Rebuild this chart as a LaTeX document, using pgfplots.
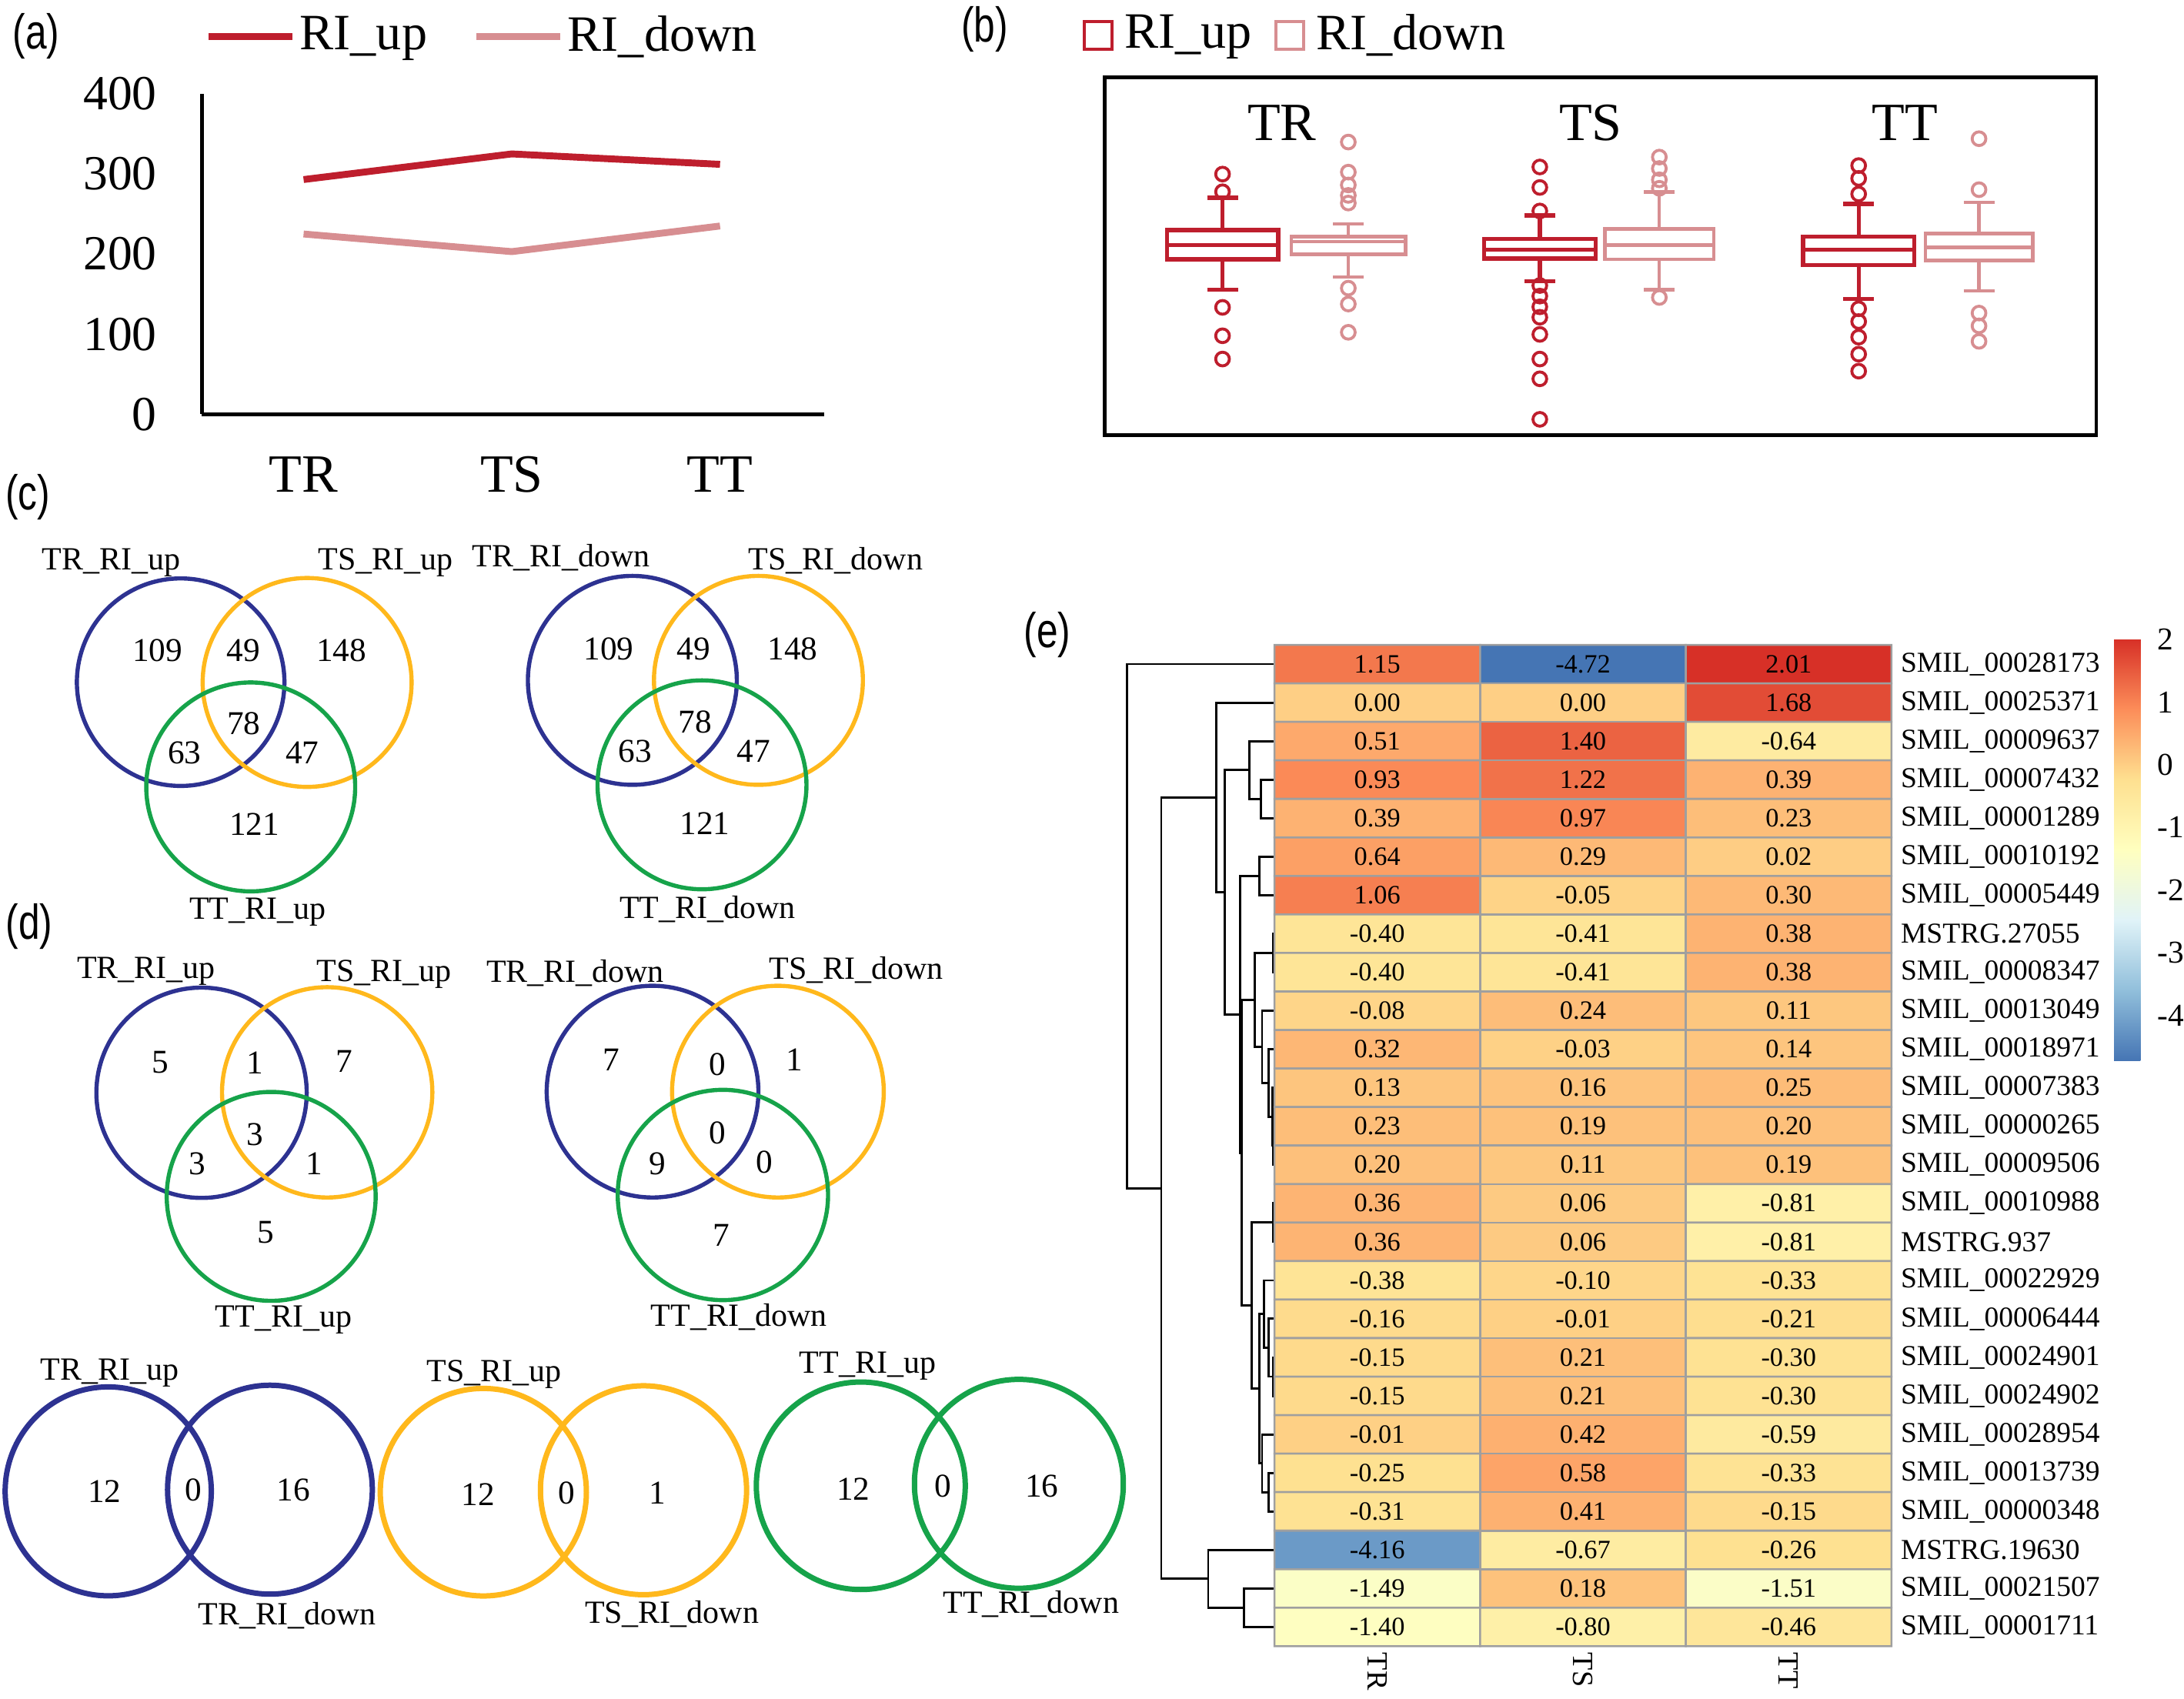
\documentclass[border=0pt]{standalone}
\usepackage{fontspec}
\setmainfont{Liberation Serif}
\setsansfont{Liberation Sans}
\usepackage{graphicx}
\usepackage{pgfplots}
\usepackage{pgfplotstable}
\pgfplotsset{compat=1.18}
\usepgfplotslibrary{statistics}

\definecolor{RIup}{RGB}{190,30,45}
\definecolor{RIdown}{RGB}{215,142,145}
\definecolor{vblue}{RGB}{45,50,145}
\definecolor{vyellow}{RGB}{255,184,28}
\definecolor{vgreen}{RGB}{22,163,74}

\newcommand{\fs}[1]{\fontsize{#1}{#1}\rmfamily\selectfont}
\newcommand{\plab}[1]{{\fontsize{10}{10}\sffamily\selectfont\scalebox{0.78}[1]{(#1)}}}
\newcommand{\g}[1]{\fs{5.9}#1}

% heatmap: column (0 TR, 1 TS, 2 TT), row, value
\pgfplotstableread{
x y v
0 1 1.15
1 1 -4.72
2 1 2.01
0 2 0.00
1 2 0.00
2 2 1.68
0 3 0.51
1 3 1.40
2 3 -0.64
0 4 0.93
1 4 1.22
2 4 0.39
0 5 0.39
1 5 0.97
2 5 0.23
0 6 0.64
1 6 0.29
2 6 0.02
0 7 1.06
1 7 -0.05
2 7 0.30
0 8 -0.40
1 8 -0.41
2 8 0.38
0 9 -0.40
1 9 -0.41
2 9 0.38
0 10 -0.08
1 10 0.24
2 10 0.11
0 11 0.32
1 11 -0.03
2 11 0.14
0 12 0.13
1 12 0.16
2 12 0.25
0 13 0.23
1 13 0.19
2 13 0.20
0 14 0.20
1 14 0.11
2 14 0.19
0 15 0.36
1 15 0.06
2 15 -0.81
0 16 0.36
1 16 0.06
2 16 -0.81
0 17 -0.38
1 17 -0.10
2 17 -0.33
0 18 -0.16
1 18 -0.01
2 18 -0.21
0 19 -0.15
1 19 0.21
2 19 -0.30
0 20 -0.15
1 20 0.21
2 20 -0.30
0 21 -0.01
1 21 0.42
2 21 -0.59
0 22 -0.25
1 22 0.58
2 22 -0.33
0 23 -0.31
1 23 0.41
2 23 -0.15
0 24 -4.16
1 24 -0.67
2 24 -0.26
0 25 -1.49
1 25 0.18
2 25 -1.51
0 26 -1.40
1 26 -0.80
2 26 -0.46
}\heat

% Venn counts, placed in picture units (0.1 mm, y from the top)
\pgfplotstableread{
x y n
113 467 109
174.7 467 49
245 467 148
175 519.6 78
132.5 540.4 63
217 540.4 47
182.7 592 121
437 466 109
498 466 49
569 466 148
499 518.6 78
456 539.4 63
541 539.4 47
506 591 121
115 763 5
182.8 763 1
247 762 7
182.8 814.6 3
141.6 835.4 3
225.8 835.4 1
190.8 885 5
438.8 761 7
515 764 0
570.4 761 1
515 813.6 0
472 835.4 9
549 834.4 0
518 887 7
75 1071 12
138.6 1070 0
210.5 1070 16
343.3 1073 12
407 1072 0
472 1072 1
612.7 1069 12
676.8 1067 0
748 1067 16
}\venn

\tikzset{venn/.style={line width=0.85pt}, vennb/.style={line width=1.1pt},
  vlab/.style={font=\fs{6.6}, inner sep=0pt}}
\pgfplotsset{dendro/.style={black, line width=0.45pt, mark=none}}

\begin{document}
\begin{tikzpicture}
\useasboundingbox (0,0) rectangle (156.8mm,121.94mm);

% canvas for venn diagrams, dendrogram and panel letters
\begin{axis}[
  at={(0,0)}, anchor=south west, scale only axis,
  width=156.8mm, height=121.94mm,
  xmin=0, xmax=1568, ymin=0, ymax=1219.4, y dir=reverse,
  hide axis, clip=false,
]
\addplot[mark=none, draw=none, nodes near coords, point meta=explicit symbolic,
  every node near coord/.append style={anchor=center, font=\fs{6.8}, inner sep=0pt}]
  table[meta=n] {\venn};

% (c)
\draw[vblue,venn]   (axis cs:129.7,489.8) circle[radius=7.45mm];
\draw[vyellow,venn] (axis cs:220.5,490) circle[radius=7.5mm];
\draw[vgreen,venn]  (axis cs:180,565) circle[radius=7.5mm];
\draw[vblue,venn]   (axis cs:454,488.5) circle[radius=7.5mm];
\draw[vyellow,venn] (axis cs:544.5,488.5) circle[radius=7.5mm];
\draw[vgreen,venn]  (axis cs:504,563.5) circle[radius=7.5mm];
\node[vlab] at (axis cs:80,404) {TR\_RI\_up};
\node[vlab] at (axis cs:277,404) {TS\_RI\_up};
\node[vlab] at (axis cs:185,655) {TT\_RI\_up};
\node[vlab] at (axis cs:403,400.5) {TR\_RI\_down};
\node[vlab] at (axis cs:600,402.5) {TS\_RI\_down};
\node[vlab] at (axis cs:508,653) {TT\_RI\_down};

% (d) three-way
\draw[vblue,venn]   (axis cs:144.7,784.6) circle[radius=7.55mm];
\draw[vyellow,venn] (axis cs:234.9,784.3) circle[radius=7.55mm];
\draw[vgreen,venn]  (axis cs:194.7,859) circle[radius=7.5mm];
\draw[vblue,venn]   (axis cs:468.5,783.8) circle[radius=7.6mm];
\draw[vyellow,venn] (axis cs:558.5,783.8) circle[radius=7.6mm];
\draw[vgreen,venn]  (axis cs:519,858) circle[radius=7.55mm];
\node[vlab] at (axis cs:105,697.5) {TR\_RI\_up};
\node[vlab] at (axis cs:275.8,699.5) {TS\_RI\_up};
\node[vlab] at (axis cs:203.6,947.5) {TT\_RI\_up};
\node[vlab] at (axis cs:413,698.5) {TR\_RI\_down};
\node[vlab] at (axis cs:614.7,696.5) {TS\_RI\_down};
\node[vlab] at (axis cs:530.5,945.5) {TT\_RI\_down};

% (d) two-way
\draw[vblue,vennb]   (axis cs:77.7,1070.8) ellipse[x radius=7.4mm, y radius=7.5mm];
\draw[vblue,vennb]   (axis cs:193.8,1069.6) ellipse[x radius=7.35mm, y radius=7.5mm];
\draw[vyellow,vennb] (axis cs:347,1071.4) ellipse[x radius=7.4mm, y radius=7.45mm];
\draw[vyellow,vennb] (axis cs:462,1070) ellipse[x radius=7.4mm, y radius=7.5mm];
\draw[vgreen,vennb]  (axis cs:618,1066.8) ellipse[x radius=7.5mm, y radius=7.45mm];
\draw[vgreen,vennb]  (axis cs:731.5,1065.4) ellipse[x radius=7.5mm, y radius=7.5mm];
\node[vlab] at (axis cs:78.6,986) {TR\_RI\_up};
\node[vlab] at (axis cs:206.3,1160) {TR\_RI\_down};
\node[vlab] at (axis cs:354.8,987) {TS\_RI\_up};
\node[vlab] at (axis cs:482.4,1159) {TS\_RI\_down};
\node[vlab] at (axis cs:623,981) {TT\_RI\_up};
\node[vlab] at (axis cs:740.3,1152) {TT\_RI\_down};

% row dendrogram of the heatmap
\addplot[dendro] coordinates {(915,476.8) (808.9,476.8) (808.9,853.1) (833.7,853.1)};
\addplot[dendro] coordinates {(873,572.6) (833.7,572.6) (833.7,1133.6) (867.4,1133.6)};
\addplot[dendro] coordinates {(915,1112.9) (867.4,1112.9) (867.4,1154.4) (893.2,1154.4)};
\addplot[dendro] coordinates {(915,1140.5) (893.2,1140.5) (893.2,1168.2) (915,1168.2)};
\addplot[dendro] coordinates {(915,504.5) (873,504.5) (873,640.6) (879.4,640.6)};
\addplot[dendro] coordinates {(896.9,552.9) (879.4,552.9) (879.4,728.3) (890.4,728.3)};
\addplot[dendro] coordinates {(915,532.1) (896.9,532.1) (896.9,573.6) (905.2,573.6)};
\addplot[dendro] coordinates {(915,559.8) (905.2,559.8) (905.2,587.4) (915,587.4)};
\addplot[dendro] coordinates {(904.3,628.9) (890.4,628.9) (890.4,827.7) (891.4,827.7)};
\addplot[dendro] coordinates {(915,615.1) (904.3,615.1) (904.3,642.7) (915,642.7)};
\addplot[dendro] coordinates {(900.6,717.9) (891.4,717.9) (891.4,937.5) (898.4,937.5)};
\addplot[dendro] coordinates {(913.8,684.2) (900.6,684.2) (900.6,751.6) (906.1,751.6)};
\addplot[dendro] coordinates {(915,670.4) (913.8,670.4) (913.8,698.0) (915,698.0)};
\addplot[dendro] coordinates {(915,725.7) (906.1,725.7) (906.1,777.6) (910.7,777.6)};
\addplot[dendro] coordinates {(915,753.3) (910.7,753.3) (910.7,801.8) (913.5,801.8)};
\addplot[dendro] coordinates {(915,781.0) (913.5,781.0) (913.5,822.5) (914.2,822.5)};
\addplot[dendro] coordinates {(915,808.7) (914.2,808.7) (914.2,836.3) (915,836.3)};
\addplot[dendro] coordinates {(913.8,877.8) (898.4,877.8) (898.4,997.1) (904.3,997.1)};
\addplot[dendro] coordinates {(915,864.0) (913.8,864.0) (913.8,891.6) (915,891.6)};
\addplot[dendro] coordinates {(907.4,943.5) (904.3,943.5) (904.3,1050.7) (906.1,1050.7)};
\addplot[dendro] coordinates {(915,919.3) (907.4,919.3) (907.4,967.7) (910.7,967.7)};
\addplot[dendro] coordinates {(915,946.9) (910.7,946.9) (910.7,988.4) (913.8,988.4)};
\addplot[dendro] coordinates {(915,974.6) (913.8,974.6) (913.8,1002.3) (915,1002.3)};
\addplot[dendro] coordinates {(915,1029.9) (906.1,1029.9) (906.1,1071.4) (910.7,1071.4)};
\addplot[dendro] coordinates {(915,1057.6) (910.7,1057.6) (910.7,1085.2) (915,1085.2)};

\node at (axis cs:26,26) {\plab{a}};
\node at (axis cs:707,21) {\plab{b}};
\node at (axis cs:20,357) {\plab{c}};
\node at (axis cs:21,665) {\plab{d}};
\node at (axis cs:752,456) {\plab{e}};
\end{axis}

% (a) line chart
\begin{axis}[
  at={(14.5mm,92.2mm)}, anchor=south west, scale only axis,
  width=44.7mm, height=23mm,
  xmin=-0.488, xmax=2.502, ymin=0, ymax=400,
  axis x line=bottom, axis y line=left,
  axis line style={-, line width=0.7pt},
  xtick={0,1,2}, xticklabels={\fs{11}TR,\fs{11}TS,\fs{11}TT},
  ytick={0,100,200,300,400},
  yticklabel={\fs{10}\pgfmathprintnumber[assume math mode=true]{\tick}},
  major tick length=0pt,
  xticklabel style={yshift=-1.8mm},
  yticklabel style={xshift=-2mm},
  legend style={at={(0.452,1.178)}, anchor=center, draw=none, fill=none,
    legend columns=2,
    /tikz/every even column/.append style={column sep=3mm},
    nodes={inner xsep=0.3mm}},
  legend image code/.code={\draw[#1] (0mm,0mm) -- (6mm,0mm);},
  clip=false,
]
\addplot[RIup, line width=1.4pt] coordinates {(0,293) (1,325) (2,312)};
\addplot[RIdown, line width=1.4pt] coordinates {(0,225) (1,203) (2,235)};
\addlegendentry{\fs{10.4}RI\_up}
\addlegendentry{\fs{10.4}RI\_down}
\end{axis}

% (b) box plots
\begin{axis}[
  at={(79.3mm,90.7mm)}, anchor=south west, scale only axis,
  width=71.2mm, height=25.7mm,
  xmin=793, xmax=1505, ymin=0, ymax=257,
  xtick=\empty, ytick=\empty,
  axis line style={line width=0.75pt},
  clip=false,
  boxplot/draw direction=y,
  legend style={at={(0.197,1.117)}, anchor=center, draw=none, fill=none,
    legend columns=2,
    /tikz/every even column/.append style={column sep=0.8mm},
    nodes={inner xsep=0.8mm}},
  legend image code/.code={\draw[#1] (0mm,-1mm) rectangle (2mm,1mm);},
]
\addlegendimage{draw=RIup, line width=0.6pt}
\addlegendentry{\fs{10.4}RI\_up}
\addlegendimage{draw=RIdown, line width=0.6pt}
\addlegendentry{\fs{10.4}RI\_down}

\addplot[forget plot, RIup, line width=0.85pt, mark=o, mark size=1.4pt,
  mark options={line width=0.6pt},
  boxplot prepared={draw position=877.7, lower whisker=104.5, lower quartile=126.3,
    median=136.5, upper quartile=147.1, upper whisker=170.5,
    box extend=80, whisker extend=22}]
  table[row sep=\\, y index=0] {y\\ 187.4\\ 174.7\\ 91.7\\ 71.3\\ 54.6\\};
\addplot[forget plot, RIdown, line width=0.7pt, mark=o, mark size=1.4pt,
  mark options={line width=0.6pt},
  boxplot prepared={draw position=968, lower whisker=113.5, lower quartile=129.8,
    median=138.9, upper quartile=142.6, upper whisker=151.7,
    box extend=82, whisker extend=22}]
  table[row sep=\\, y index=0] {y\\ 210.4\\ 188.8\\ 179.6\\ 172.1\\ 166.6\\ 105.5\\ 94.1\\ 73.8\\};
\addplot[forget plot, RIup, line width=0.85pt, mark=o, mark size=1.4pt,
  mark options={line width=0.6pt},
  boxplot prepared={draw position=1105.5, lower whisker=110.4, lower quartile=126.7,
    median=133.0, upper quartile=141.0, upper whisker=157.8,
    box extend=80, whisker extend=22}]
  table[row sep=\\, y index=0] {y\\ 192.5\\ 177.8\\ 160.9\\ 107.4\\ 99.8\\ 92.1\\ 84.6\\ 72.3\\ 54.6\\ 40.4\\ 11.3\\};
\addplot[forget plot, RIdown, line width=0.7pt, mark=o, mark size=1.4pt,
  mark options={line width=0.6pt},
  boxplot prepared={draw position=1191.3, lower whisker=104.5, lower quartile=126.3,
    median=136.5, upper quartile=148.1, upper whisker=174.5,
    box extend=78, whisker extend=22}]
  table[row sep=\\, y index=0] {y\\ 199.6\\ 191.4\\ 183.3\\ 177.2\\ 98.8\\};
\addplot[forget plot, RIup, line width=0.85pt, mark=o, mark size=1.4pt,
  mark options={line width=0.6pt},
  boxplot prepared={draw position=1334.4, lower whisker=97.8, lower quartile=122.2,
    median=133.0, upper quartile=142.6, upper whisker=166.0,
    box extend=80, whisker extend=22}]
  table[row sep=\\, y index=0] {y\\ 193.5\\ 184.3\\ 173.1\\ 90.7\\ 81.5\\ 70.3\\ 58.1\\ 45.9\\};
\addplot[forget plot, RIdown, line width=0.7pt, mark=o, mark size=1.4pt,
  mark options={line width=0.6pt},
  boxplot prepared={draw position=1420.8, lower whisker=103.5, lower quartile=125.3,
    median=134.8, upper quartile=144.6, upper whisker=167.2,
    box extend=77, whisker extend=22}]
  table[row sep=\\, y index=0] {y\\ 212.8\\ 176.2\\ 87.6\\ 78.4\\ 67.3\\};

\node[font=\fs{11}] at (axis cs:920.3,224) {TR};
\node[font=\fs{11}] at (axis cs:1142,224) {TS};
\node[font=\fs{11}] at (axis cs:1367.5,224) {TT};
\end{axis}

% (e) heatmap
\begin{axis}[
  at={(91.5mm,3.74mm)}, anchor=south west, scale only axis,
  width=44.3mm, height=71.9mm,
  xmin=-0.5, xmax=2.5, ymin=0.5, ymax=26.5, y dir=reverse,
  axis line style={draw=none}, major tick length=0pt,
  xtick={0,1,2}, xticklabels={\fs{6}TR,\fs{6}TS,\fs{6}TT},
  xticklabel style={rotate=-90, anchor=west, inner sep=0.4mm},
  ytick={1,...,26}, yticklabel pos=right,
  yticklabels={\g{SMIL\_00028173}, \g{SMIL\_00025371}, \g{SMIL\_00009637},
    \g{SMIL\_00007432}, \g{SMIL\_00001289}, \g{SMIL\_00010192}, \g{SMIL\_00005449},
    \g{MSTRG.27055}, \g{SMIL\_00008347}, \g{SMIL\_00013049}, \g{SMIL\_00018971},
    \g{SMIL\_00007383}, \g{SMIL\_00000265}, \g{SMIL\_00009506}, \g{SMIL\_00010988},
    \g{MSTRG.937}, \g{SMIL\_00022929}, \g{SMIL\_00006444}, \g{SMIL\_00024901},
    \g{SMIL\_00024902}, \g{SMIL\_00028954}, \g{SMIL\_00013739}, \g{SMIL\_00000348},
    \g{MSTRG.19630}, \g{SMIL\_00021507}, \g{SMIL\_00001711}},
  yticklabel style={anchor=west, inner sep=0.6mm},
  colormap={pheat}{rgb255=(69,117,180) rgb255=(145,191,219) rgb255=(224,243,248)
    rgb255=(255,255,191) rgb255=(254,224,144) rgb255=(252,141,89) rgb255=(215,48,39)},
  point meta min=-4.72, point meta max=2.01,
  colorbar,
  colorbar style={
    at={(parent axis.north east)}, anchor=north west,
    xshift=12.97mm, yshift=0.44mm,
    scale only axis, width=1.9mm, height=30.3mm,
    ytick={-4,-3,-2,-1,0,1,2},
    yticklabel={\fs{6.5}\pgfmathprintnumber[assume math mode=true]{\tick}},
    axis line style={draw=none}, major tick length=0pt,
  },
  clip=false,
]
\addplot[matrix plot*, mesh/cols=3, point meta=explicit, draw=gray!75, line width=0.4pt]
  table[meta=v] {\heat};
\addplot[draw=none, mark=none, nodes near coords, point meta=explicit symbolic,
  every node near coord/.append style={anchor=center, font=\fs{5.4}, inner sep=0pt}]
  table[meta=v] {\heat};
\end{axis}
\end{tikzpicture}
\end{document}
